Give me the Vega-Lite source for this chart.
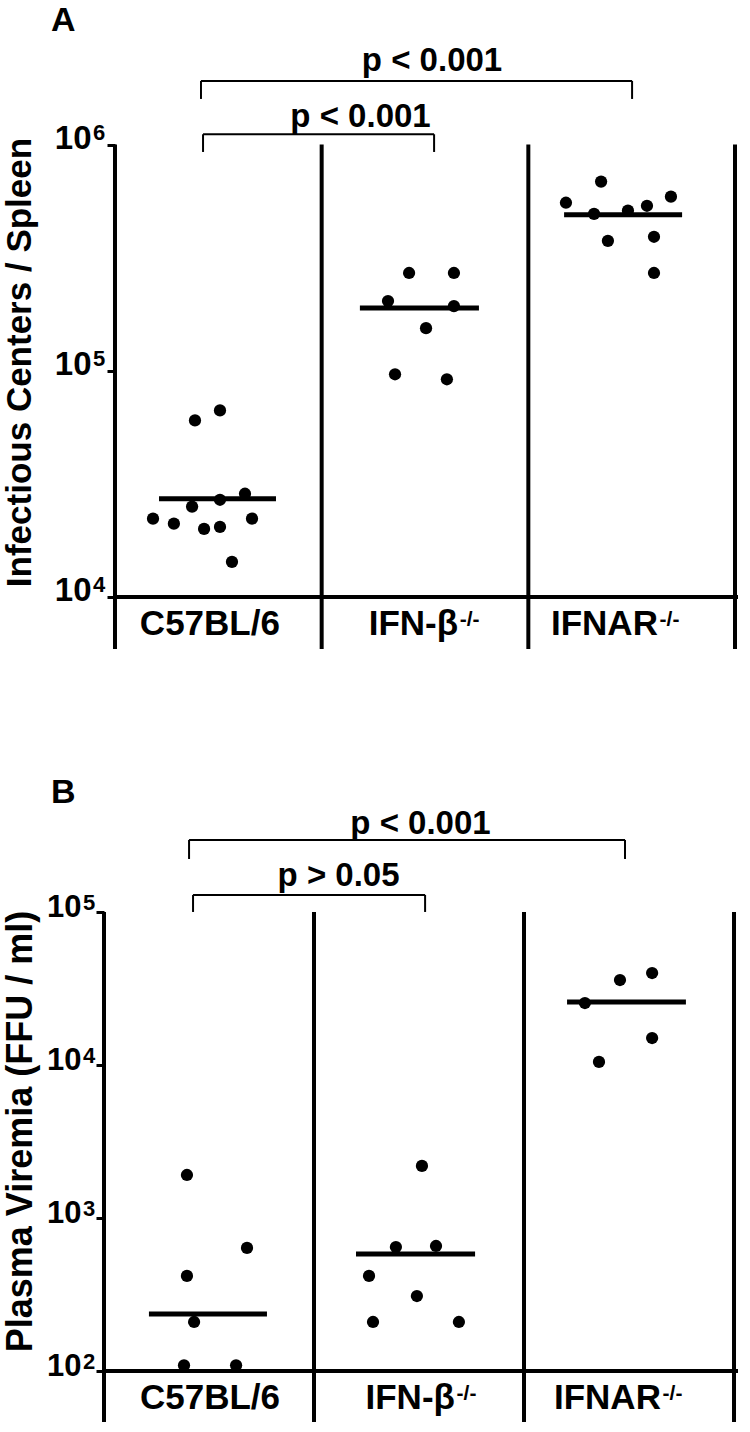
{
  "$schema": "https://vega.github.io/schema/vega-lite/v6.json",
  "background": "white",
  "padding": {"left": 2, "top": 4, "right": 0, "bottom": 0},
  "spacing": 124,
  "config": {
    "font": "Liberation Sans",
    "view": {"stroke": null},
    "axis": {"labelFont": "Liberation Sans", "labelFontWeight": "bold", "labelColor": "black", "titleFont": "Liberation Sans", "titleFontWeight": "bold", "titleColor": "black", "tickColor": "black", "domainColor": "black", "grid": false},
    "title": {"font": "Liberation Sans", "fontWeight": "bold", "color": "black", "fontSize": 34, "anchor": "start", "frame": "group"}
  },
  "vconcat": [
    {
      "width": 634,
      "height": 606,
      "title": {"text": "A", "dx": -53, "offset": 5},
      "layer": [
        {
          "data": {"values": [
            {"x": 0, "x2": 0, "y": 5890, "y2": 1000000},
            {"x": 1, "x2": 1, "y": 5890, "y2": 1000000},
            {"x": 2, "x2": 2, "y": 5890, "y2": 1000000},
            {"x": 3, "x2": 3, "y": 5890, "y2": 1000000},
            {"x": 0, "x2": 3.0145, "y": 10000, "y2": 10000}
          ]},
          "mark": {"type": "rule", "strokeWidth": 4, "color": "black"},
          "encoding": {
            "x": {"field": "x", "type": "quantitative", "scale": {"domain": [-0.0532, 3.0145], "nice": false, "zero": false}, "axis": null},
            "x2": {"field": "x2"},
            "y": {"field": "y", "type": "quantitative", "scale": {"type": "log", "domain": [5890, 2810000], "nice": false},
              "axis": {"title": "Infectious Centers / Spleen", "titleFontSize": 35, "titlePadding": 17, "titleY": 319, "values": [10000, 100000, 1000000], "labelExpr": "'10'", "labelFontSize": 33, "labelPadding": 16, "labelOffset": -6, "tickSize": 8, "tickWidth": 3, "domain": false, "offset": -11}},
            "y2": {"field": "y2"}
          }
        },
        {
          "data": {"values": [
            {"x": 0, "y": 10000, "e": "4"},
            {"x": 0, "y": 100000, "e": "5"},
            {"x": 0, "y": 1000000, "e": "6"}
          ]},
          "mark": {"type": "text", "fontSize": 22, "fontWeight": "bold", "align": "left", "baseline": "top", "dx": -22, "dy": -22, "color": "black"},
          "encoding": {
            "x": {"field": "x", "type": "quantitative", "axis": null},
            "y": {"field": "y", "type": "quantitative"},
            "text": {"field": "e"}
          }
        },
        {
          "data": {"values": [
            {"x": 0.416, "x2": 0.416, "y": 1590000, "y2": 1910000},
            {"x": 0.416, "x2": 2.502, "y": 1910000, "y2": 1910000},
            {"x": 2.502, "x2": 2.502, "y": 1590000, "y2": 1910000},
            {"x": 0.426, "x2": 0.426, "y": 927000, "y2": 1110000},
            {"x": 0.426, "x2": 1.544, "y": 1110000, "y2": 1110000},
            {"x": 1.544, "x2": 1.544, "y": 927000, "y2": 1110000}
          ]},
          "mark": {"type": "rule", "strokeWidth": 2, "color": "black"},
          "encoding": {
            "x": {"field": "x", "type": "quantitative", "axis": null},
            "x2": {"field": "x2"},
            "y": {"field": "y", "type": "quantitative"},
            "y2": {"field": "y2"}
          }
        },
        {
          "data": {"values": [
            {"x": 1.534, "y": 2110000, "t": "p < 0.001"},
            {"x": 1.188, "y": 1195000, "t": "p < 0.001"}
          ]},
          "mark": {"type": "text", "fontSize": 33, "fontWeight": "bold", "align": "center", "baseline": "alphabetic", "color": "black"},
          "encoding": {
            "x": {"field": "x", "type": "quantitative", "axis": null},
            "y": {"field": "y", "type": "quantitative"},
            "text": {"field": "t"}
          }
        },
        {
          "data": {"values": [
            {"group": "C57BL/6", "x": 0.387, "y": 60300},
            {"group": "C57BL/6", "x": 0.508, "y": 66800},
            {"group": "C57BL/6", "x": 0.629, "y": 28600},
            {"group": "C57BL/6", "x": 0.508, "y": 26900},
            {"group": "C57BL/6", "x": 0.373, "y": 25100},
            {"group": "C57BL/6", "x": 0.184, "y": 22200},
            {"group": "C57BL/6", "x": 0.285, "y": 21100},
            {"group": "C57BL/6", "x": 0.431, "y": 20000},
            {"group": "C57BL/6", "x": 0.508, "y": 20400},
            {"group": "C57BL/6", "x": 0.663, "y": 22200},
            {"group": "C57BL/6", "x": 0.566, "y": 14300},
            {"group": "IFN-β-/-", "x": 1.423, "y": 270500},
            {"group": "IFN-β-/-", "x": 1.640, "y": 270500},
            {"group": "IFN-β-/-", "x": 1.321, "y": 203300},
            {"group": "IFN-β-/-", "x": 1.640, "y": 193200},
            {"group": "IFN-β-/-", "x": 1.505, "y": 154300},
            {"group": "IFN-β-/-", "x": 1.355, "y": 96500},
            {"group": "IFN-β-/-", "x": 1.606, "y": 91700},
            {"group": "IFNAR-/-", "x": 2.352, "y": 685500},
            {"group": "IFNAR-/-", "x": 2.182, "y": 553000},
            {"group": "IFNAR-/-", "x": 2.690, "y": 588000},
            {"group": "IFNAR-/-", "x": 2.574, "y": 536000},
            {"group": "IFNAR-/-", "x": 2.318, "y": 494000},
            {"group": "IFNAR-/-", "x": 2.482, "y": 510000},
            {"group": "IFNAR-/-", "x": 2.385, "y": 375300},
            {"group": "IFNAR-/-", "x": 2.608, "y": 391000},
            {"group": "IFNAR-/-", "x": 2.608, "y": 270500}
          ]},
          "mark": {"type": "circle", "size": 150, "color": "black", "opacity": 1},
          "encoding": {
            "x": {"field": "x", "type": "quantitative", "axis": null},
            "y": {"field": "y", "type": "quantitative"}
          }
        },
        {
          "data": {"values": [
            {"group": "C57BL/6", "x": 0.213, "x2": 0.779, "y": 27200},
            {"group": "IFN-β-/-", "x": 1.185, "x2": 1.761, "y": 189200},
            {"group": "IFNAR-/-", "x": 2.173, "x2": 2.744, "y": 489000}
          ]},
          "mark": {"type": "rule", "strokeWidth": 5, "color": "black"},
          "encoding": {
            "x": {"field": "x", "type": "quantitative", "axis": null},
            "x2": {"field": "x2"},
            "y": {"field": "y", "type": "quantitative"}
          }
        },
        {
          "data": {"values": [
            {"x": 0.798, "y": 6790, "t": "C57BL/6"},
            {"x": 1.660, "y": 6790, "t": "IFN-β"},
            {"x": 2.627, "y": 6790, "t": "IFNAR"}
          ]},
          "mark": {"type": "text", "fontSize": 35, "fontWeight": "bold", "align": "right", "baseline": "alphabetic", "color": "black"},
          "encoding": {
            "x": {"field": "x", "type": "quantitative", "axis": null},
            "y": {"field": "y", "type": "quantitative"},
            "text": {"field": "t"}
          }
        },
        {
          "data": {"values": [
            {"x": 1.668, "y": 7450, "t": "-/-"},
            {"x": 2.635, "y": 7450, "t": "-/-"}
          ]},
          "mark": {"type": "text", "fontSize": 21, "fontWeight": "bold", "align": "left", "baseline": "alphabetic", "color": "black"},
          "encoding": {
            "x": {"field": "x", "type": "quantitative", "axis": null},
            "y": {"field": "y", "type": "quantitative"},
            "text": {"field": "t"}
          }
        }
      ]
    },
    {
      "width": 634,
      "height": 611,
      "title": {"text": "B", "dx": -53, "offset": -2},
      "layer": [
        {
          "data": {"values": [
            {"x": 0, "x2": 0, "y": 46.4, "y2": 100000},
            {"x": 1, "x2": 1, "y": 46.4, "y2": 100000},
            {"x": 2, "x2": 2, "y": 46.4, "y2": 100000},
            {"x": 3, "x2": 3, "y": 46.4, "y2": 100000},
            {"x": 0, "x2": 3.019, "y": 100, "y2": 100}
          ]},
          "mark": {"type": "rule", "strokeWidth": 4, "color": "black"},
          "encoding": {
            "x": {"field": "x", "type": "quantitative", "scale": {"domain": [0, 3.019], "nice": false, "zero": false}, "axis": null},
            "x2": {"field": "x2"},
            "y": {"field": "y", "type": "quantitative", "scale": {"type": "log", "domain": [46.4, 457000], "nice": false},
              "axis": {"title": "Plasma Viremia (FFU / ml)", "titleFontSize": 36, "titlePadding": 7, "titleY": 320, "values": [100, 1000, 10000, 100000], "labelExpr": "'10'", "labelFontSize": 31, "labelPadding": 15, "labelOffset": -4, "tickSize": 8, "tickWidth": 3, "domain": false}},
            "y2": {"field": "y2"}
          }
        },
        {
          "data": {"values": [
            {"x": 0, "y": 100, "e": "2"},
            {"x": 0, "y": 1000, "e": "3"},
            {"x": 0, "y": 10000, "e": "4"},
            {"x": 0, "y": 100000, "e": "5"}
          ]},
          "mark": {"type": "text", "fontSize": 22, "fontWeight": "bold", "align": "left", "baseline": "top", "dx": -21, "dy": -19, "color": "black"},
          "encoding": {
            "x": {"field": "x", "type": "quantitative", "axis": null},
            "y": {"field": "y", "type": "quantitative"},
            "text": {"field": "e"}
          }
        },
        {
          "data": {"values": [
            {"x": 0.405, "x2": 0.405, "y": 222000, "y2": 295600},
            {"x": 0.405, "x2": 2.481, "y": 295600, "y2": 295600},
            {"x": 2.481, "x2": 2.481, "y": 222000, "y2": 295600},
            {"x": 0.424, "x2": 0.424, "y": 100000, "y2": 129200},
            {"x": 0.424, "x2": 1.529, "y": 129200, "y2": 129200},
            {"x": 1.529, "x2": 1.529, "y": 100000, "y2": 129200}
          ]},
          "mark": {"type": "rule", "strokeWidth": 2, "color": "black"},
          "encoding": {
            "x": {"field": "x", "type": "quantitative", "axis": null},
            "x2": {"field": "x2"},
            "y": {"field": "y", "type": "quantitative"},
            "y2": {"field": "y2"}
          }
        },
        {
          "data": {"values": [
            {"x": 1.507, "y": 323600, "t": "p < 0.001"},
            {"x": 1.117, "y": 147900, "t": "p > 0.05"}
          ]},
          "mark": {"type": "text", "fontSize": 33, "fontWeight": "bold", "align": "center", "baseline": "alphabetic", "color": "black"},
          "encoding": {
            "x": {"field": "x", "type": "quantitative", "axis": null},
            "y": {"field": "y", "type": "quantitative"},
            "text": {"field": "t"}
          }
        },
        {
          "data": {"values": [
            {"group": "C57BL/6", "x": 0.395, "y": 1910},
            {"group": "C57BL/6", "x": 0.681, "y": 637},
            {"group": "C57BL/6", "x": 0.395, "y": 418},
            {"group": "C57BL/6", "x": 0.429, "y": 209},
            {"group": "C57BL/6", "x": 0.381, "y": 109},
            {"group": "C57BL/6", "x": 0.629, "y": 109},
            {"group": "IFN-β-/-", "x": 1.514, "y": 2188},
            {"group": "IFN-β-/-", "x": 1.390, "y": 646},
            {"group": "IFN-β-/-", "x": 1.581, "y": 656},
            {"group": "IFN-β-/-", "x": 1.262, "y": 418},
            {"group": "IFN-β-/-", "x": 1.490, "y": 309},
            {"group": "IFN-β-/-", "x": 1.281, "y": 209},
            {"group": "IFN-β-/-", "x": 1.690, "y": 209},
            {"group": "IFNAR-/-", "x": 2.457, "y": 35900},
            {"group": "IFNAR-/-", "x": 2.610, "y": 39900},
            {"group": "IFNAR-/-", "x": 2.290, "y": 25400},
            {"group": "IFNAR-/-", "x": 2.610, "y": 15000},
            {"group": "IFNAR-/-", "x": 2.357, "y": 10470}
          ]},
          "mark": {"type": "circle", "size": 150, "color": "black", "opacity": 1},
          "encoding": {
            "x": {"field": "x", "type": "quantitative", "axis": null},
            "y": {"field": "y", "type": "quantitative"}
          }
        },
        {
          "data": {"values": [
            {"group": "C57BL/6", "x": 0.214, "x2": 0.776, "y": 236},
            {"group": "IFN-β-/-", "x": 1.2, "x2": 1.767, "y": 582},
            {"group": "IFNAR-/-", "x": 2.205, "x2": 2.771, "y": 25800}
          ]},
          "mark": {"type": "rule", "strokeWidth": 5, "color": "black"},
          "encoding": {
            "x": {"field": "x", "type": "quantitative", "axis": null},
            "x2": {"field": "x2"},
            "y": {"field": "y", "type": "quantitative"}
          }
        },
        {
          "data": {"values": [
            {"x": 0.838, "y": 56.5, "t": "C57BL/6"},
            {"x": 1.671, "y": 56.5, "t": "IFN-β"},
            {"x": 2.652, "y": 56.5, "t": "IFNAR"}
          ]},
          "mark": {"type": "text", "fontSize": 35, "fontWeight": "bold", "align": "right", "baseline": "alphabetic", "color": "black"},
          "encoding": {
            "x": {"field": "x", "type": "quantitative", "axis": null},
            "y": {"field": "y", "type": "quantitative"},
            "text": {"field": "t"}
          }
        },
        {
          "data": {"values": [
            {"x": 1.679, "y": 64.6, "t": "-/-"},
            {"x": 2.660, "y": 64.6, "t": "-/-"}
          ]},
          "mark": {"type": "text", "fontSize": 21, "fontWeight": "bold", "align": "left", "baseline": "alphabetic", "color": "black"},
          "encoding": {
            "x": {"field": "x", "type": "quantitative", "axis": null},
            "y": {"field": "y", "type": "quantitative"},
            "text": {"field": "t"}
          }
        }
      ]
    }
  ]
}
